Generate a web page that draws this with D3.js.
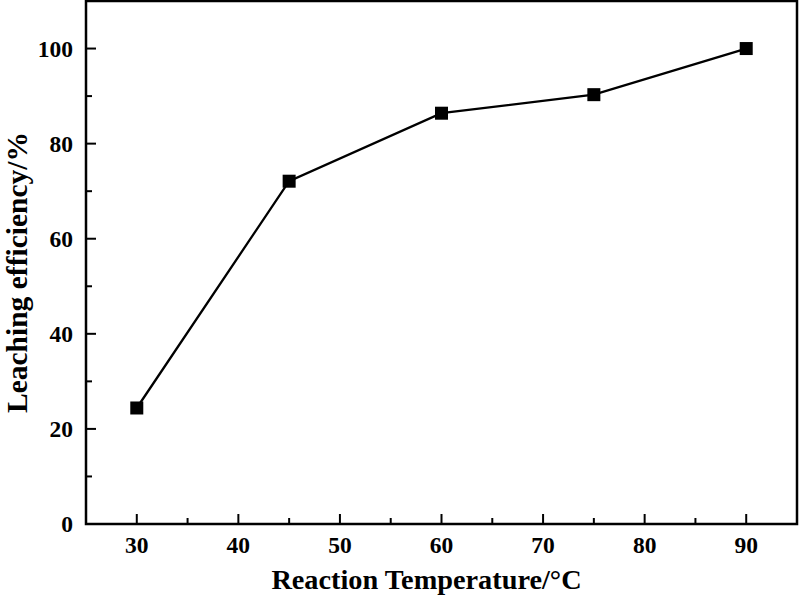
<!DOCTYPE html>
<html><head><meta charset="utf-8">
<script src="https://cdn.jsdelivr.net/npm/d3@7"></script>
<style>body{margin:0;background:#fff}svg{display:block}</style>
</head><body>
<script>
const temperatures = [30, 45, 60, 75, 90];
const efficiency = [24.4, 72.1, 86.4, 90.3, 100.0];
const xTicks = [30, 40, 50, 60, 70, 80, 90];
const yTicks = [0, 20, 40, 60, 80, 100];
const xLabel = "Reaction Temperature/°C";
const yLabel = "Leaching efficiency/%";

const W = 800, H = 595;
const L = 86, R = 797, T = 1, B = 524;
const svg = d3.select("body").append("svg").attr("width", W).attr("height", H);
const font = "'Liberation Serif','Times New Roman',serif";

const x = d3.scaleLinear().domain([25, 95]).range([L, R]);
const y = d3.scaleLinear().domain([0, 110]).range([B, T]);

// ticks
const xMinor = d3.range(35, 95, 10);
const yMinor = d3.range(10, 110, 20);
const g = svg.append("g");
g.selectAll(".xmaj").data(xTicks).join("line")
  .attr("x1", d => x(d)).attr("x2", d => x(d)).attr("y1", B).attr("y2", B - 10)
  .attr("stroke", "#000").attr("stroke-width", 2);
g.selectAll(".xmin").data(xMinor).join("line")
  .attr("x1", d => x(d)).attr("x2", d => x(d)).attr("y1", B).attr("y2", B - 6)
  .attr("stroke", "#000").attr("stroke-width", 2);
g.selectAll(".ymaj").data(yTicks).join("line")
  .attr("y1", d => y(d)).attr("y2", d => y(d)).attr("x1", L).attr("x2", L + 10)
  .attr("stroke", "#000").attr("stroke-width", 2);
g.selectAll(".ymin").data(yMinor).join("line")
  .attr("y1", d => y(d)).attr("y2", d => y(d)).attr("x1", L).attr("x2", L + 6)
  .attr("stroke", "#000").attr("stroke-width", 2);

// frame
svg.append("rect").attr("x", L).attr("y", T).attr("width", R - L).attr("height", B - T)
  .attr("fill", "none").attr("stroke", "#000").attr("stroke-width", 2.5);

// tick labels
svg.selectAll(".xl").data(xTicks).join("text")
  .attr("x", d => x(d)).attr("y", 553).attr("text-anchor", "middle")
  .attr("font-family", font).attr("font-weight", "bold").attr("font-size", 23.5)
  .text(d => d);
svg.selectAll(".yl").data(yTicks).join("text")
  .attr("x", 73).attr("y", d => y(d)).attr("dy", "0.35em").attr("text-anchor", "end")
  .attr("font-family", font).attr("font-weight", "bold").attr("font-size", 23.5)
  .text(d => d);

// axis titles
svg.append("text").attr("x", 426.5).attr("y", 589).attr("text-anchor", "middle")
  .attr("font-family", font).attr("font-weight", "bold").attr("font-size", 28.3)
  .text(xLabel);
svg.append("text").attr("transform", "translate(26.5,272.5) rotate(-90)").attr("text-anchor", "middle")
  .attr("font-family", font).attr("font-weight", "bold").attr("font-size", 29.5)
  .text(yLabel);

// data
const data = temperatures.map((t, i) => ({t, v: efficiency[i]}));
svg.append("path").datum(data)
  .attr("d", d3.line().x(d => x(d.t)).y(d => y(d.v)))
  .attr("fill", "none").attr("stroke", "#000").attr("stroke-width", 2.3);
svg.selectAll(".pt").data(data).join("rect")
  .attr("x", d => x(d.t) - 6.5).attr("y", d => y(d.v) - 6.5)
  .attr("width", 13).attr("height", 13).attr("fill", "#000");
</script>
</body></html>
